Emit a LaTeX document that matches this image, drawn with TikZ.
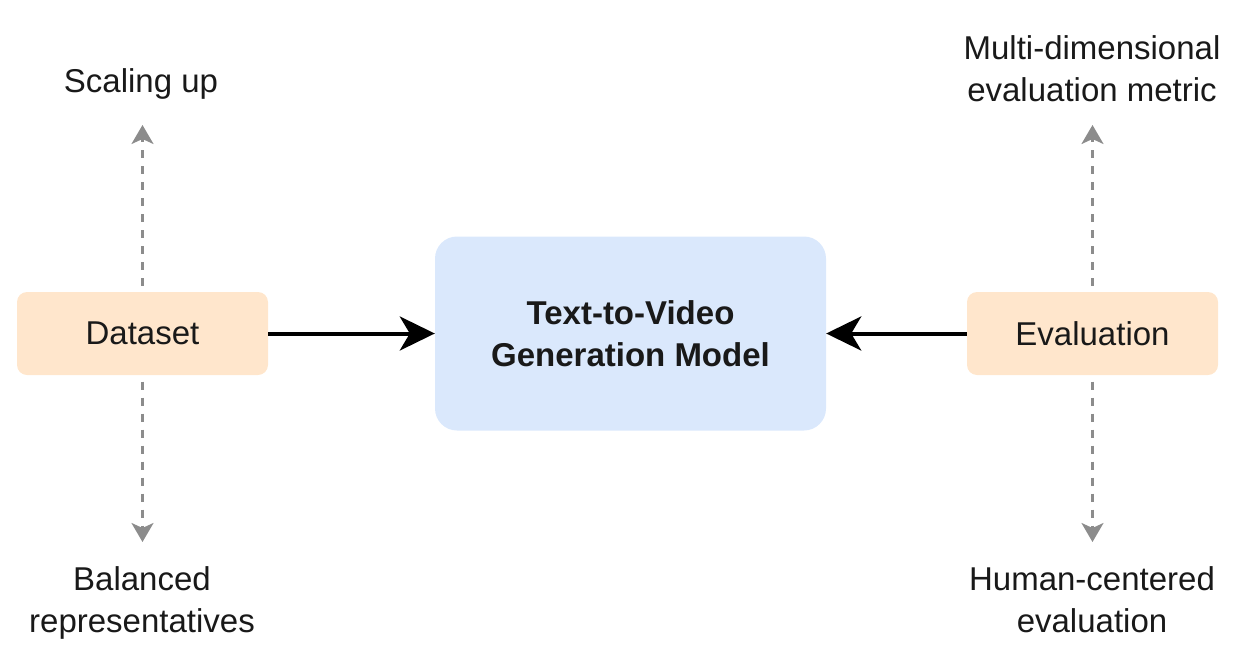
\documentclass[tikz,border=0pt]{standalone}
\usepackage{fontspec}
\setmainfont{Liberation Sans}
\usetikzlibrary{arrows.meta,backgrounds}
\definecolor{orangefill}{HTML}{FFE6CC}
\definecolor{bluefill}{HTML}{DAE8FC}
\definecolor{dashgray}{HTML}{8C8C8C}
\begin{document}
\begin{tikzpicture}[x=1pt,y=-1pt,
  every node/.style={font=\fontsize{33}{42}\selectfont, text=black!90},
  sidebox/.style={fill=orangefill, rounded corners=10pt, minimum width=251pt, minimum height=83pt, inner sep=0pt},
  mainbox/.style={fill=bluefill, rounded corners=22pt, minimum width=391pt, minimum height=194pt, inner sep=0pt, align=center, font=\fontsize{33}{42}\selectfont\bfseries},
  label/.style={align=center, inner sep=0pt, anchor=base},
  mainarrow/.style={line width=4pt, -{Stealth[length=35pt,width=34pt,inset=10pt]}},
  dasharrow/.style={draw=dashgray, line width=2.5pt, dash pattern=on 8pt off 8pt, -{Stealth[length=19pt,width=22pt,inset=5pt,fill=dashgray]}}
]
\useasboundingbox (0,0) rectangle (1256,656);
\node[sidebox] (ds) at (142.5,333.5) {Dataset};
\node[sidebox] (ev) at (1092.5,333.5) {Evaluation};
\node[mainbox] (tv) at (630.5,333.5) {Text-to-Video\\Generation Model};
\node[label] (su) at (141,92) {Scaling up};
\node[label] (br) at (142,632) {Balanced\\representatives};
\node[label] (mm) at (1092,101) {Multi-dimensional\\evaluation metric};
\node[label] (hc) at (1092,632) {Human-centered\\evaluation};
\coordinate (dsT) at (142.5,125);
\coordinate (dsB) at (142.5,542);
\coordinate (evT) at (1092.5,125);
\coordinate (evB) at (1092.5,542);
\draw[mainarrow] (ds) -- (tv);
\draw[mainarrow] (ev) -- (tv);
\begin{scope}[on background layer]
\draw[dasharrow] (ds.center) -- (dsT);
\draw[dasharrow] (ds.center) -- (dsB);
\draw[dasharrow] (ev.center) -- (evT);
\draw[dasharrow] (ev.center) -- (evB);
\end{scope}
\end{tikzpicture}
\end{document}
